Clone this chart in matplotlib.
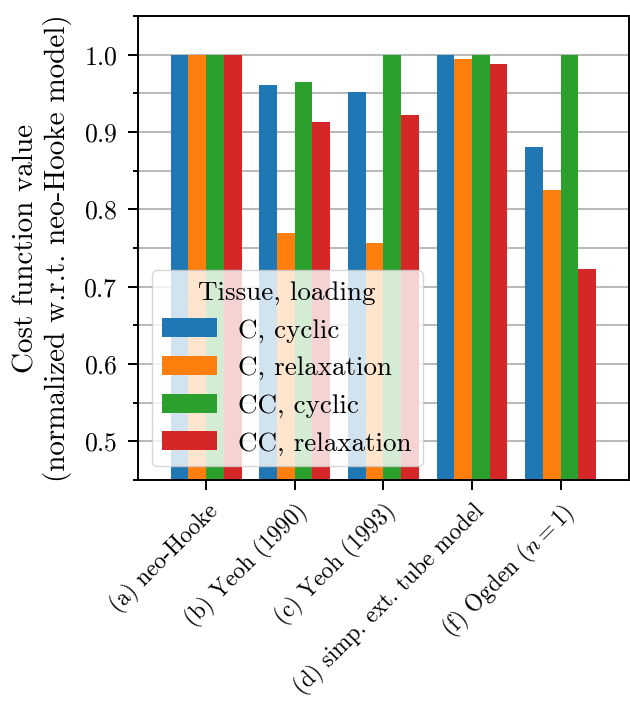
"""Normalized cost function values per constitutive model, grouped bar chart."""
import matplotlib
matplotlib.use('Agg')
import matplotlib.pyplot as plt
import numpy as np
from matplotlib.ticker import MultipleLocator

plt.rcParams['font.family'] = 'serif'
plt.rcParams['font.serif'] = ['cmr10']
plt.rcParams['mathtext.fontset'] = 'cm'
plt.rcParams['axes.formatter.use_mathtext'] = True
plt.rcParams['font.size'] = 18.5

models = ['(a) neo-Hooke', '(b) Yeoh (1990)', '(c) Yeoh (1993)',
          '(d) simp. ext. tube model', '(f) Ogden ($n = 1$)']
series = ['C, cyclic', 'C, relaxation', 'CC, cyclic', 'CC, relaxation']

c_cyclic = [1.000, 0.961, 0.952, 0.999, 0.880]
c_relax = [1.000, 0.769, 0.756, 0.994, 0.825]
cc_cyclic = [1.000, 0.965, 1.000, 1.000, 0.999]
cc_relax = [1.000, 0.913, 0.922, 0.988, 0.723]

values = [c_cyclic, c_relax, cc_cyclic, cc_relax]
colors = ['#1f77b4', '#ff7f0e', '#2ca02c', '#d62728']

fig = plt.figure(figsize=(6.3, 7.03), dpi=100)
ax = fig.add_axes([0.219, 0.3172, 0.779, 0.660])

x = np.arange(len(models))
width = 0.2
for i, (vals, label, color) in enumerate(zip(values, series, colors)):
    ax.bar(x + (i - 1.5) * width, vals, width, label=label, color=color)

ax.set_xlim(-0.77, 4.77)
ax.set_ylim(0.45, 1.05)
ax.yaxis.set_major_locator(MultipleLocator(0.1))
ax.yaxis.set_minor_locator(MultipleLocator(0.05))
ax.set_axisbelow(True)
ax.grid(True, axis='y', which='both', color='#b0b0b0', linewidth=1.25)

ax.set_xticks(x)
ax.set_xticklabels(models)
plt.setp(ax.get_xticklabels(), rotation=45, ha='right', va='top',
         rotation_mode='anchor', fontsize=16.7)
ax.tick_params(which='major', length=7.2, width=1.4)
ax.tick_params(which='minor', length=3.6, width=1.4)
ax.tick_params(axis='y', which='major', pad=7.5)
ax.tick_params(axis='x', which='major', pad=6.5)
ax.tick_params(axis='x', which='minor', bottom=False)
for spine in ax.spines.values():
    spine.set_linewidth(1.4)

ax.set_ylabel('Cost function value\n(normalized w.r.t. neo-Hooke model)',
              fontsize=21, linespacing=1.15, labelpad=8)
ax.legend(title='Tissue, loading', loc='lower left', fontsize=19.5,
          title_fontsize=19.5)

plt.savefig('out.png', dpi=100)
plt.close('all')
